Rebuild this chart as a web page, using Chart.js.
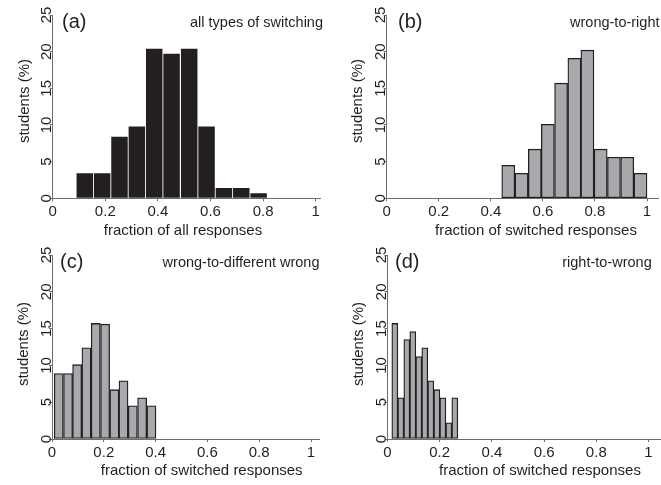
<!DOCTYPE html>
<html><head><meta charset="utf-8">
<script src="https://cdn.jsdelivr.net/npm/chart.js@4/dist/chart.umd.min.js"></script>
<style>
html,body{margin:0;padding:0;background:#fff;}
#wrap{position:relative;width:661px;height:485px;overflow:hidden;background:#fff;}
canvas{position:absolute;left:0;top:0;}
</style></head><body>
<div id="wrap">
<canvas id="ca" width="661" height="485"></canvas>
<canvas id="cb" width="661" height="485"></canvas>
<canvas id="cc" width="661" height="485"></canvas>
<canvas id="cd" width="661" height="485"></canvas>
</div>
<script>
// ---- data ----
const xTickValues = [0, 0.2, 0.4, 0.6, 0.8, 1];
const yTickValues = [0, 5, 10, 15, 20, 25];
const yTitle = "students (%)";

// (a) all types of switching
const binsA = [0.122, 0.188, 0.254, 0.320, 0.386, 0.452, 0.519, 0.585, 0.651, 0.717, 0.783];
const valsA = [3.4, 3.4, 8.4, 9.8, 20.4, 19.7, 20.4, 9.8, 1.4, 1.4, 0.7];
// (b) wrong-to-right
const binsB = [0.467, 0.518, 0.569, 0.619, 0.670, 0.721, 0.771, 0.822, 0.873, 0.924, 0.975];
const valsB = [4.5, 3.4, 6.7, 10.1, 15.7, 19.1, 20.2, 6.7, 5.6, 5.6, 3.4];
// (c) wrong-to-different wrong
const binsC = [0.026, 0.062, 0.097, 0.133, 0.169, 0.205, 0.241, 0.276, 0.312, 0.348, 0.384];
const valsC = [8.9, 8.9, 10.1, 12.4, 15.7, 15.6, 6.7, 7.9, 4.5, 5.6, 4.5];
// (d) right-to-wrong
const binsD = [0.028, 0.051, 0.074, 0.097, 0.120, 0.143, 0.166, 0.189, 0.212, 0.235, 0.258];
const valsD = [15.7, 5.6, 13.5, 14.6, 11.2, 12.4, 7.9, 6.7, 5.6, 2.2, 5.6];

const panelTags = ["(a)", "(b)", "(c)", "(d)"];
const panelDescs = ["all types of switching", "wrong-to-right", "wrong-to-different wrong", "right-to-wrong"];
const xTitles = ["fraction of all responses", "fraction of switched responses", "fraction of switched responses", "fraction of switched responses"];

// ---- styling ----
const FAM = "'Liberation Sans', Arial, Helvetica, sans-serif";
const TXT = "#231f20";
const AXC = "#6d6e71";
const BLACK = "#231f20";
const GRAY = "#a7a9ac";
Chart.defaults.font.family = FAM;
Chart.defaults.color = TXT;

const YW = 30, XH = 30, W = 661, H = 485;

// layout of each panel (page pixels): x0 = pixel of value 0, x1 = pixel of value 1, xR = end of axis line
const geo = [
  {x0: 52.7, x1: 315.7, xR: 320, y0: 198.3, yT: 15,
   tag: [62, 27.5], desc: [323, 26.5], xt: [183, 235], yt: [28.5, 101]},
  {x0: 386.7, x1: 647, xR: 658, y0: 198.3, yT: 15,
   tag: [398, 27.5], desc: [659.5, 26.5], xt: [536, 235], yt: [362, 101]},
  {x0: 52, x1: 311, xR: 319, y0: 439, yT: 255,
   tag: [60, 267.5], desc: [319.5, 266.5], xt: [201.7, 475], yt: [27.5, 344]},
  {x0: 387.5, x1: 648.5, xR: 660, y0: 439, yT: 255,
   tag: [395, 267.5], desc: [651.7, 266.5], xt: [540, 475], yt: [362.5, 344]}
];

const textPlugin = {
  id: 'panelText',
  afterDraw(chart, args, o) {
    const ctx = chart.ctx;
    ctx.save();
    ctx.fillStyle = TXT;
    ctx.textBaseline = 'alphabetic';
    ctx.font = "20px " + FAM;
    ctx.textAlign = 'left';
    ctx.fillText(o.tag, o.g.tag[0], o.g.tag[1]);
    ctx.font = "14.5px " + FAM;
    ctx.textAlign = 'right';
    ctx.fillText(o.desc, o.g.desc[0], o.g.desc[1]);
    ctx.font = "15px " + FAM;
    ctx.textAlign = 'center';
    ctx.fillText(o.xTitle, o.g.xt[0], o.g.xt[1]);
    ctx.translate(o.g.yt[0], o.g.yt[1]);
    ctx.rotate(-Math.PI / 2);
    ctx.fillText(o.yTitle, 0, 0);
    ctx.restore();
  }
};

function makePanel(id, idx, bins, vals, filled) {
  const g = geo[idx];
  const xmax = (g.xR - g.x0) / (g.x1 - g.x0);
  const ds = filled ? {
    data: bins.map((x, i) => ({x: x, y: vals[i]})),
    backgroundColor: BLACK, borderWidth: 0,
    barPercentage: 0.95, categoryPercentage: 1
  } : {
    data: bins.map((x, i) => ({x: x, y: vals[i]})),
    backgroundColor: GRAY, borderColor: BLACK, borderWidth: 1.3,
    borderSkipped: false, barPercentage: 1, categoryPercentage: 1
  };
  new Chart(document.getElementById(id), {
    type: 'bar',
    data: {datasets: [ds]},
    plugins: [textPlugin],
    options: {
      responsive: false, animation: false, devicePixelRatio: 1,
      layout: {padding: {left: g.x0 - YW, right: W - g.xR, top: g.yT, bottom: H - g.y0 - XH}},
      plugins: {
        legend: {display: false}, tooltip: {enabled: false}, title: {display: false},
        panelText: {g: g, tag: panelTags[idx], desc: panelDescs[idx], xTitle: xTitles[idx], yTitle: yTitle}
      },
      scales: {
        x: {
          type: 'linear', min: 0, max: xmax, offset: false,
          afterBuildTicks: s => { s.ticks = xTickValues.map(v => ({value: v})); },
          afterFit: s => { s.height = XH; },
          grid: {display: true, drawOnChartArea: false, drawTicks: true, tickLength: 3, color: AXC, offset: false},
          border: {display: true, color: AXC, width: 1},
          ticks: {font: {size: 15}, color: TXT, padding: 2, maxRotation: 0, autoSkip: false,
                  callback: v => String(v)}
        },
        y: {
          type: 'linear', min: 0, max: 25,
          afterBuildTicks: s => { s.ticks = yTickValues.map(v => ({value: v})); },
          afterFit: s => { s.width = YW; },
          grid: {display: true, drawOnChartArea: false, drawTicks: true, tickLength: 3, color: AXC},
          border: {display: true, color: AXC, width: 1},
          ticks: {font: {size: 15}, color: TXT, padding: -6, minRotation: 90, maxRotation: 90,
                  crossAlign: 'center', autoSkip: false, callback: v => String(v)}
        }
      }
    }
  });
}

makePanel('ca', 0, binsA, valsA, true);
makePanel('cb', 1, binsB, valsB, false);
makePanel('cc', 2, binsC, valsC, false);
makePanel('cd', 3, binsD, valsD, false);
</script>
</body></html>
